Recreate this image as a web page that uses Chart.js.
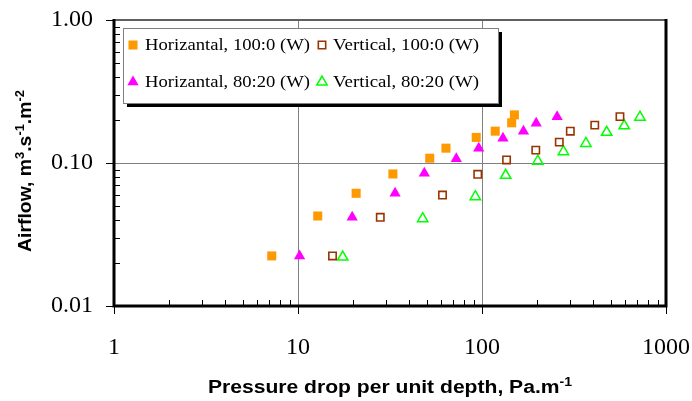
<!DOCTYPE html>
<html>
<head>
<meta charset="utf-8">
<script src="https://cdn.jsdelivr.net/npm/chart.js@4/dist/chart.umd.min.js"></script>
<style>
  html, body { margin:0; padding:0; background:#fff; }
  #wrap { width:692px; height:401px; position:relative; }
</style>
</head>
<body>
<div id="wrap"><canvas id="c" width="692" height="401"></canvas></div>
<script>
/* Airflow vs pressure drop, log-log */

// Horizontal, 100:0 (W)
const h100x = [7.2, 12.8, 20.7, 32.8, 52, 63.7, 93, 118, 145, 150];
const h100y = [0.0224, 0.0426, 0.0614, 0.0838, 0.108, 0.127, 0.151, 0.167, 0.191, 0.217];
// Vertical, 100:0 (W)
const v100x = [15.4, 28, 61, 94.8, 136, 196, 263, 302, 410, 562];
const v100y = [0.0224, 0.0417, 0.0597, 0.0834, 0.105, 0.123, 0.140, 0.167, 0.184, 0.211];
// Horizontal, 80:20 (W)
const h80x = [10.2, 19.7, 33.7, 48.6, 72.5, 96, 130, 168, 197, 256];
const h80y = [0.0224, 0.0417, 0.0614, 0.0847, 0.107, 0.127, 0.149, 0.167, 0.190, 0.211];
// Vertical, 80:20 (W)
const v80x = [17.5, 47.6, 92, 134.5, 201, 277, 367, 476, 593, 722];
const v80y = [0.022, 0.0408, 0.0581, 0.082, 0.103, 0.120, 0.137, 0.164, 0.182, 0.209];

const xTicks = [1, 10, 100, 1000];
const yTicks = [0.01, 0.1, 1];

const pts = (xs, ys) => xs.map((x, i) => ({ x, y: ys[i] }));

const ORANGE = '#FF9900', BROWN = '#993300', MAGENTA = '#FF00FF', GREEN = '#00FF00';

const datasets = [
  { label: 'Horizantal, 100:0 (W)', data: pts(h100x, h100y), pointStyle: 'rect', pointRadius: 6.4,
    backgroundColor: ORANGE, borderColor: ORANGE, borderWidth: 0 },
  { label: 'Vertical, 100:0 (W)', data: pts(v100x, v100y), pointStyle: 'rect', pointRadius: 5.2,
    backgroundColor: '#fff', borderColor: BROWN, borderWidth: 1.6 },
  { label: 'Horizantal, 80:20 (W)', data: pts(h80x, h80y), pointStyle: 'triangle', pointRadius: 6.5,
    backgroundColor: MAGENTA, borderColor: MAGENTA, borderWidth: 0 },
  { label: 'Vertical, 80:20 (W)', data: pts(v80x, v80y), pointStyle: 'triangle', pointRadius: 6,
    backgroundColor: 'rgba(0,0,0,0)', borderColor: GREEN, borderWidth: 1.5 }
];

// minor ticks (inward) + frame
const framePlugin = {
  id: 'frame',
  afterDraw(chart) {
    const ctx = chart.ctx, a = chart.chartArea;
    const xs = chart.scales.x, ys = chart.scales.y;
    ctx.save();
    ctx.strokeStyle = '#000'; ctx.lineWidth = 1;
    ctx.beginPath();
    for (let d = 1; d < 1000; d *= 10) {
      for (let k = 2; k <= 9; k++) {
        const px = Math.round(xs.getPixelForValue(d * k)) + 0.5;
        ctx.moveTo(px, a.bottom); ctx.lineTo(px, a.bottom - 6);
      }
    }
    for (let d = 0.01; d < 1; d *= 10) {
      for (let k = 2; k <= 9; k++) {
        const py = Math.round(ys.getPixelForValue(d * k)) + 0.5;
        ctx.moveTo(a.left, py); ctx.lineTo(a.left + 6, py);
      }
    }
    ctx.stroke();
    // border
    ctx.lineWidth = 2; ctx.strokeStyle = '#606060';
    ctx.beginPath(); ctx.moveTo(a.left, a.top); ctx.lineTo(a.right, a.top); ctx.stroke();
    ctx.strokeStyle = '#000'; ctx.lineWidth = 3;
    ctx.beginPath();
    ctx.moveTo(a.left, a.top - 1); ctx.lineTo(a.left, a.bottom);
    ctx.lineTo(a.right, a.bottom); ctx.lineTo(a.right, a.top - 1);
    ctx.stroke();
    ctx.restore();
  }
};

// text squeezed/stretched to the width it has in the original
function fitText(ctx, text, x, y, width) {
  const w = ctx.measureText(text).width;
  ctx.save();
  ctx.translate(x, y);
  ctx.scale(width / w, 1);
  ctx.fillText(text, 0, 0);
  ctx.restore();
}

// legend box with shadow
const legendPlugin = {
  id: 'boxLegend',
  afterDraw(chart) {
    const ctx = chart.ctx;
    const bx = 123, by = 28, bw = 375, bh = 75;
    ctx.save();
    ctx.fillStyle = '#000';
    ctx.fillRect(bx + 4, by + 4, bw, bh);
    ctx.fillStyle = '#fff';
    ctx.fillRect(bx, by, bw, bh);
    ctx.strokeStyle = '#808080'; ctx.lineWidth = 1;
    ctx.strokeRect(bx + 0.5, by + 0.5, bw, bh);
    const cells = [
      [0, 133, 45, 145, 165], [1, 322, 45, 333, 146],
      [2, 133, 82, 145, 165], [3, 322, 82, 333, 146]
    ];
    ctx.font = '17px "Liberation Serif", "Times New Roman", serif';
    ctx.textBaseline = 'middle';
    cells.forEach(([i, mx, my, tx, tw]) => {
      const ds = chart.data.datasets[i];
      ctx.fillStyle = ds.backgroundColor; ctx.strokeStyle = ds.borderColor; ctx.lineWidth = ds.borderWidth;
      Chart.helpers.drawPoint(ctx, { pointStyle: ds.pointStyle, radius: ds.pointRadius, borderWidth: ds.borderWidth }, mx, my);
      ctx.fillStyle = '#000';
      fitText(ctx, ds.label, tx, my + 1, tw);
    });
    ctx.restore();
  }
};

// axis titles with superscripts
function drawParts(ctx, parts, x, y, target) {
  const big = 'bold 18px "Liberation Sans", Arial, sans-serif';
  const small = 'bold 12px "Liberation Sans", Arial, sans-serif';
  let w = 0;
  parts.forEach(p => { ctx.font = p[1] ? small : big; w += ctx.measureText(p[0]).width; });
  const k = target / w;
  ctx.save();
  ctx.translate(x - target / 2, y);
  ctx.scale(k, 1);
  let cx = 0;
  parts.forEach(p => {
    ctx.font = p[1] ? small : big;
    ctx.fillText(p[0], cx, p[1] ? -7 : 0);
    cx += ctx.measureText(p[0]).width;
  });
  ctx.restore();
}
const titlePlugin = {
  id: 'titles',
  afterDraw(chart) {
    const ctx = chart.ctx;
    ctx.save();
    ctx.fillStyle = '#000';
    ctx.textBaseline = 'alphabetic';
    drawParts(ctx, [['Pressure drop per unit depth, Pa.m', 0], ['-1', 1]], 390, 393, 364);
    ctx.translate(31, 171);
    ctx.rotate(-Math.PI / 2);
    drawParts(ctx, [['Airflow, m', 0], ['3', 1], ['.s', 0], ['-1', 1], ['.m', 0], ['-2', 1]], 0, 0, 162);
    ctx.restore();
  }
};

Chart.defaults.font.family = '"Liberation Serif", "Times New Roman", serif';
Chart.defaults.color = '#000';

new Chart(document.getElementById('c'), {
  type: 'scatter',
  data: { datasets },
  options: {
    responsive: false,
    animation: false,
    layout: { padding: { top: 20, right: 26, left: 0, bottom: 0 } },
    plugins: { legend: { display: false }, tooltip: { enabled: false } },
    scales: {
      x: {
        type: 'logarithmic', min: 1, max: 1000,
        afterBuildTicks: s => { s.ticks = xTicks.map(v => ({ value: v })); },
        afterFit: s => { s.height = 95; s.paddingLeft = 0; s.paddingRight = 0; },
        border: { display: false },
        grid: { color: '#808080', lineWidth: 1, tickColor: '#000', tickLength: 8 },
        ticks: { font: { size: 24 }, padding: 19, maxRotation: 0, autoSkip: false, callback: v => String(v) }
      },
      y: {
        type: 'logarithmic', min: 0.01, max: 1,
        afterBuildTicks: s => { s.ticks = yTicks.map(v => ({ value: v })); },
        afterFit: s => { s.width = 114; s.paddingTop = 0; s.paddingBottom = 0; },
        border: { display: false },
        grid: { color: '#808080', lineWidth: 1, tickColor: '#000', tickLength: 8 },
        ticks: { font: { size: 24 }, padding: 13, autoSkip: false, callback: v => Number(v).toFixed(2) }
      }
    }
  },
  plugins: [framePlugin, legendPlugin, titlePlugin]
});
</script>
</body>
</html>
